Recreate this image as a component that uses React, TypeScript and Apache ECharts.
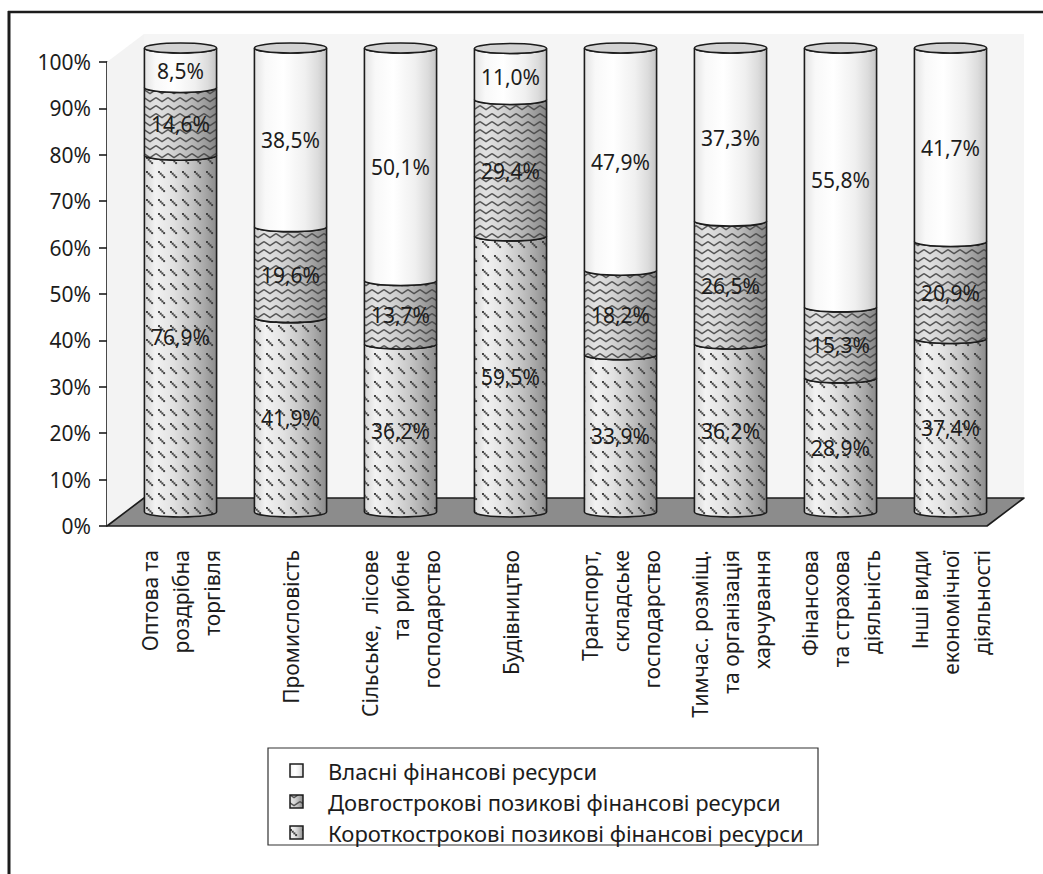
import React, { useEffect, useRef } from "react";
import * as echarts from "echarts";

const categories = [
  "Оптова та\nроздрібна\nторгівля",
  "Промисловість",
  "Сільське,  лісове\nта рибне\nгосподарство",
  "Будівництво",
  "Транспорт,\nскладське\nгосподарство",
  "Тимчас. розміщ.\nта організація\nхарчування",
  "Фінансова\nта страхова\nдіяльність",
  "Інші види\nекономічної\nдіяльності",
];
const shortTerm = [76.9, 41.9, 36.2, 59.5, 33.9, 36.2, 28.9, 37.4];
const longTerm = [14.6, 19.6, 13.7, 29.4, 18.2, 26.5, 15.3, 20.9];
const ownRes = [8.5, 38.5, 50.1, 11.0, 47.9, 37.3, 55.8, 41.7];
const seriesNames = [
  "Власні фінансові ресурси",
  "Довгострокові позикові фінансові ресурси",
  "Короткострокові позикові фінансові ресурси",
];

const FONT = "'Noto Sans', 'Open Sans', sans-serif";
const INK = "#1c1c1c";
// front plane of the 3D box
const FRONT = { left: 107, right: 56, top: 62, bottom: 348 };
const DX = 18.5;
const DY = 14;

function makeDashPattern(): HTMLCanvasElement {
  const c = document.createElement("canvas");
  c.width = 12;
  c.height = 14;
  const g = c.getContext("2d")!;
  g.fillStyle = "rgba(60,60,60,0.95)";
  for (let i = 0; i < 4; i++) g.fillRect(2 + i * 1.7, 3 + i * 1.7, 2, 2);
  return c;
}
function makeZigPattern(): HTMLCanvasElement {
  const c = document.createElement("canvas");
  c.width = 12;
  c.height = 8;
  const g = c.getContext("2d")!;
  g.strokeStyle = "rgba(70,70,70,0.9)";
  g.lineWidth = 1.5;
  g.beginPath();
  g.moveTo(0, 1.5);
  g.lineTo(6, 5.5);
  g.lineTo(12, 1.5);
  g.stroke();
  return c;
}

function grad(stops: [number, string][]) {
  return new echarts.graphic.LinearGradient(
    0,
    0,
    1,
    0,
    stops.map(([offset, color]) => ({ offset, color }))
  );
}

const fmt = (v: number) => v.toFixed(1).replace(".", ",") + "%";

export default function App() {
  const ref = useRef<HTMLDivElement>(null);
  useEffect(() => {
    if (!ref.current) return;
    const chart = echarts.init(ref.current, undefined, { renderer: "svg" });
    const dashPat = { image: makeDashPattern(), repeat: "repeat" };
    const zigPat = { image: makeZigPattern(), repeat: "repeat" };

    const fills = [
      // own (top)
      grad([
        [0, "#e4e4e4"],
        [0.15, "#f8f8f8"],
        [0.4, "#ffffff"],
        [0.7, "#f0f0f0"],
        [0.88, "#dcdcdc"],
        [1, "#c4c4c4"],
      ]),
      // long-term (middle)
      grad([
        [0, "#cfcfcf"],
        [0.15, "#e2e2e2"],
        [0.4, "#d2d2d2"],
        [0.65, "#b8b8b8"],
        [0.85, "#9c9c9c"],
        [1, "#848484"],
      ]),
      // short-term (bottom)
      grad([
        [0, "#d6d6d6"],
        [0.15, "#f2f2f2"],
        [0.4, "#e2e2e2"],
        [0.65, "#c4c4c4"],
        [0.85, "#a6a6a6"],
        [1, "#8c8c8c"],
      ]),
    ];
    const patterns = [null, zigPat, dashPat];

    const layers = [shortTerm, longTerm, ownRes];
    const layerKinds = [2, 1, 0]; // index into fills/patterns/seriesNames
    const cum = categories.map(() => 0);
    const segData = layers.map((arr) =>
      arr.map((v, i) => {
        const s = cum[i];
        cum[i] += v;
        return [i, s, cum[i], v];
      })
    );

    const makeRender = (kind: number, isTop: boolean) => (params: any, api: any) => {
      const idx = api.value(0);
      const start = api.value(1);
      const end = api.value(2);
      const v = api.value(3);
      const pb = api.coord([idx, start]);
      const pt = api.coord([idx, end]);
      const cx = pb[0];
      const yBot = pb[1];
      const yTop = pt[1];
      const a = api.size([1, 0])[0] * 0.328;
      const b = 5;
      const d =
        `M${cx - a} ${yTop} L${cx - a} ${yBot} ` +
        `A${a} ${b} 0 0 0 ${cx + a} ${yBot} L${cx + a} ${yTop} ` +
        `A${a} ${b} 0 0 1 ${cx - a} ${yTop} Z`;
      const children: any[] = [
        { type: "path", shape: { pathData: d }, style: { fill: fills[kind], stroke: null } },
      ];
      if (patterns[kind]) {
        children.push({ type: "path", shape: { pathData: d }, style: { fill: patterns[kind], stroke: null } });
      }
      children.push({
        type: "path",
        shape: { pathData: d },
        style: { fill: null, stroke: INK, lineWidth: 1.6 },
      });
      if (isTop) {
        const cap =
          `M${cx - a} ${yTop} A${a} ${b} 0 1 0 ${cx + a} ${yTop} ` +
          `A${a} ${b} 0 1 0 ${cx - a} ${yTop} Z`;
        children.push({
          type: "path",
          shape: { pathData: cap },
          style: { fill: "#d2d2d2", stroke: INK, lineWidth: 1.6 },
        });
      }
      children.push({
        type: "text",
        x: cx,
        y: (yTop + yBot) / 2 + 3,
        style: {
          text: fmt(v),
          fontSize: 21,
          fontFamily: FONT,
          fill: INK,
          align: "center",
          verticalAlign: "middle",
        },
      });
      return { type: "group", children };
    };

    const renderBox = (params: any, api: any) => {
      const cs = params.coordSys;
      const fx0 = cs.x - DX, fx1 = cs.x + cs.width - DX;
      const fy0 = cs.y + DY, fy1 = cs.y + cs.height + DY;
      const bx0 = cs.x + DX, bx1 = cs.x + cs.width + DX;
      const by0 = cs.y - DY, by1 = cs.y + cs.height - DY;
      return {
        type: "group",
        children: [
          {
            type: "polygon",
            shape: { points: [[fx0, fy0], [bx0, by0], [bx0, by1], [fx0, fy1]] },
            style: { fill: "#f3f3f3" },
          },
          {
            type: "polygon",
            shape: { points: [[bx0, by0], [bx1, by0], [bx1, by1], [bx0, by1]] },
            style: { fill: "#f5f5f5" },
          },
          {
            type: "polygon",
            shape: { points: [[fx0, fy1], [bx0, by1], [bx1, by1], [fx1, fy1]] },
            style: { fill: "#8c8c8c", stroke: INK, lineWidth: 1.6, lineJoin: "round" },
          },
        ],
      };
    };

    const legendX = 268, legendY = 748;
    const legendRows = [0, 1, 2];
    const legendGraphics: any[] = [
      {
        type: "rect",
        shape: { x: legendX, y: legendY, width: 550, height: 97 },
        style: { fill: "#fff", stroke: "#333", lineWidth: 1.2 },
      },
    ];
    legendRows.forEach((k, r) => {
      const cy = legendY + 23 + r * 31;
      const rectShape = { x: 290, y: cy - 7, width: 13, height: 13 };
      legendGraphics.push({ type: "rect", shape: rectShape, style: { fill: fills[k] } });
      if (patterns[k])
        legendGraphics.push({ type: "rect", shape: rectShape, style: { fill: patterns[k] } });
      legendGraphics.push({
        type: "rect",
        shape: rectShape,
        style: { fill: null, stroke: INK, lineWidth: 1.5 },
      });
      legendGraphics.push({
        type: "text",
        x: 328,
        y: cy,
        style: {
          text: seriesNames[k],
          fontSize: 22,
          fontFamily: FONT,
          fill: INK,
          verticalAlign: "middle",
        },
      });
    });

    const option: any = {
      animation: false,
      backgroundColor: "#fff",
      textStyle: { fontFamily: FONT },
      grid: [
        { ...FRONT, outerBoundsMode: "none" },
        {
          left: FRONT.left + DX,
          right: FRONT.right - DX,
          top: FRONT.top - DY,
          bottom: FRONT.bottom + DY,
          outerBoundsMode: "none",
        },
      ],
      xAxis: [
        { type: "category", gridIndex: 0, data: categories, show: false },
        {
          type: "category",
          gridIndex: 1,
          data: categories,
          axisLine: { show: false },
          axisTick: { show: false },
          axisLabel: {
            interval: 0,
            rotate: 90,
            margin: 38,
            fontSize: 21,
            lineHeight: 31,
            color: INK,
            fontFamily: FONT,
          },
        },
      ],
      yAxis: [
        {
          type: "value",
          gridIndex: 0,
          min: 0,
          max: 100,
          interval: 10,
          axisLine: { show: true, lineStyle: { color: INK, width: 1.6 } },
          axisTick: { show: true, length: 8, lineStyle: { color: INK, width: 1.6 } },
          splitLine: { show: false },
          axisLabel: {
            formatter: "{value}%",
            fontSize: 21,
            color: INK,
            margin: 16,
            fontFamily: FONT,
          },
        },
        { type: "value", gridIndex: 1, min: 0, max: 100, show: false },
      ],
      series: [
        {
          type: "custom",
          xAxisIndex: 1,
          yAxisIndex: 1,
          data: [[0, 0]],
          renderItem: renderBox,
          z: 1,
          silent: true,
        },
        ...segData.map((data, li) => ({
          type: "custom",
          name: seriesNames[layerKinds[li]],
          xAxisIndex: 1,
          yAxisIndex: 1,
          data,
          renderItem: makeRender(layerKinds[li], li === segData.length - 1),
          z: 2 + li,
        })),
      ],
      graphic: [
        {
          type: "line",
          shape: { x1: 9, y1: 11, x2: 9, y2: 874 },
          style: { stroke: INK, lineWidth: 3 },
        },
        {
          type: "line",
          shape: { x1: 8, y1: 12, x2: 1043, y2: 12 },
          style: { stroke: INK, lineWidth: 2.5 },
        },
        ...legendGraphics,
      ],
    };
    chart.setOption(option);
    return () => chart.dispose();
  }, []);

  return (
    <div
      ref={ref}
      style={{ position: "absolute", left: 0, top: 0, width: 1043, height: 874, background: "#fff" }}
    />
  );
}
